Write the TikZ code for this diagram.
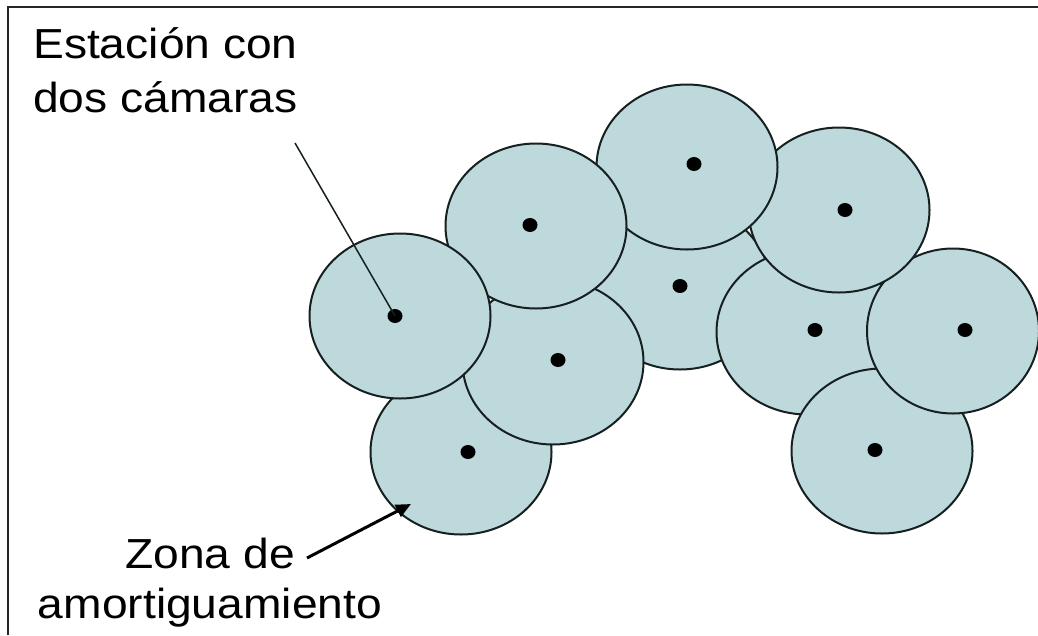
\documentclass[tikz,border=0pt]{standalone}
\usepackage{fontspec}
\setmainfont{Liberation Sans}
\usetikzlibrary{shapes.geometric,arrows.meta}
\definecolor{zonefill}{RGB}{189,217,220}
\definecolor{edgecol}{RGB}{22,32,32}
\newcommand{\wtxt}[1]{\scalebox{1.1}[1]{#1}}
\begin{document}
\begin{tikzpicture}[x=1pt,y=-1pt,
  zone/.style={ellipse, draw=edgecol, line width=2pt, fill=zonefill,
    minimum width=181pt, minimum height=165pt, inner sep=0pt},
  cam/.style={ellipse, fill=black, minimum width=15pt, minimum height=14pt, inner sep=0pt},
  lbl/.style={font=\fontsize{42}{54}\selectfont, inner sep=0pt, text=black}]
\useasboundingbox (0,0) rectangle (1038,635);
\fill[white] (0,0) rectangle (1038,635);
\draw[line width=2pt, black!85] (8,635) -- (8,7) -- (1038,7);
% circles, back to front
\node[zone] (zF) at (680,287) {};  \node[cam] (cF) at (680,286) {};
\node[zone] (zH) at (807,332) {};  \node[cam] (cH) at (815,330) {};
\node[zone] (zJ) at (882,451) {};  \node[cam] (cJ) at (875,450) {};
\node[zone, minimum width=172pt] (zI) at (953,331) {};  \node[cam] (cI) at (965,330) {};
\node[zone] (zG) at (839,210) {};  \node[cam] (cG) at (845,210) {};
\node[zone] (zD) at (461,452) {};  \node[cam] (cD) at (468,452) {};
\node[zone] (zC) at (553,362) {};  \node[cam] (cC) at (558,360) {};
\node[zone] (zE) at (687,167) {};  \node[cam] (cE) at (694,164) {};
\node[zone] (zB) at (536,226) {};  \node[cam] (cB) at (530,225) {};
\node[zone] (zA) at (400,316) {};  \node[cam] (cA) at (395,316) {};
% labels
\node[lbl, anchor=base west] (t1) at (33,58) {\wtxt{Estación con}};
\node[lbl, anchor=base west] (t2) at (33,112) {\wtxt{dos cámaras}};
\node[lbl, anchor=base] (b1) at (210,568) {\wtxt{Zona de}};
\node[lbl, anchor=base] (b2) at (210,618) {\wtxt{amortiguamiento}};
% connectors
\coordinate (leadStart) at (295,143);
\draw[line width=1.5pt, edgecol] (leadStart) -- (cA.center);
\coordinate (arrTail) at (307,558);
\coordinate (arrTip) at (411,504);
\draw[line width=3pt, -{Triangle[length=15pt,width=13pt]}] (arrTail) -- (arrTip);
\end{tikzpicture}
\end{document}
